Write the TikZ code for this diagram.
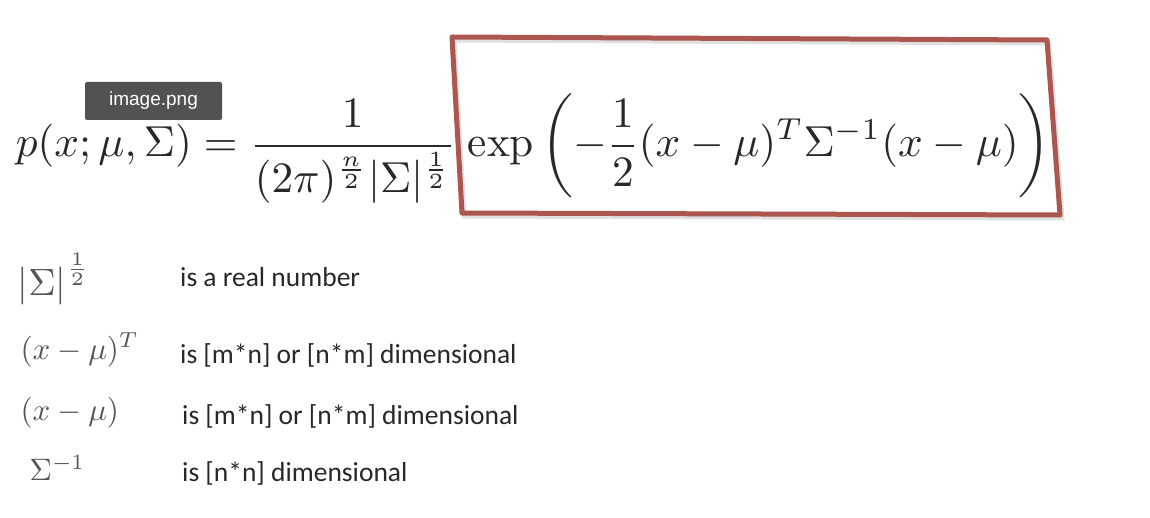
\documentclass[tikz,border=0pt]{standalone}
\usepackage{fontspec}
\newfontfamily\calibri{Carlito}
\newfontfamily\tipfont{Liberation Sans}
\definecolor{boxred}{RGB}{172,86,80}
\definecolor{tipgray}{RGB}{82,82,82}
\definecolor{inkgray}{RGB}{40,40,40}
\definecolor{mathgray}{RGB}{85,85,85}

\begin{document}
\begin{tikzpicture}[x=1pt,y=-1pt]
\useasboundingbox [fill=white] (0,0) rectangle (1150,518);
% the density
\node [anchor=base west, inner sep=0, scale=4.33, transform shape, text=inkgray] (pdf) at (15,157) {$\displaystyle p(x;\mu,\Sigma) = \frac{1}{(2\pi)^{\frac{n}{2}}|\Sigma|^{\frac{1}{2}}}\mkern2mu\exp\left(-\frac{1}{2}(x-\mu)^T\Sigma^{-1}(x-\mu)\right)$};
% box round the exponent
\draw [black!12, line width=5pt] (454,40) -- (1049,43) -- (1062,218) -- (464,216) -- cycle;
\draw [boxred, line width=5pt, line join=round] (452,37) -- (1047,40) -- (1060,215) -- (462,213) -- cycle;
% tooltip
\node [fill=tipgray, rounded corners=2pt, text=white, font=\tipfont\fontsize{19}{22}\selectfont, minimum width=137pt, minimum height=38pt, inner sep=0] (tip) at (153.5,101) {image.png};
% the terms
\node [anchor=west, inner sep=0, scale=3.8, transform shape, text=mathgray] (detterm) at (17,279) {$\left|\Sigma\right|^{\frac{1}{2}}$};
\node [anchor=west, inner sep=0, scale=3.1, transform shape, text=mathgray] (rowterm) at (20,350) {$(x-\mu)^T$};
\node [anchor=west, inner sep=0, scale=3.1, transform shape, text=mathgray] (colterm) at (20,413) {$(x-\mu)$};
\node [anchor=west, inner sep=0, scale=3.1, transform shape, text=mathgray] (invterm) at (29,468) {$\Sigma^{-1}$};
\node [anchor=base west, inner sep=0, text=inkgray, font=\calibri\fontsize{27.5}{31}\selectfont] (dettext) at (180,287) {is a real number};
\node [anchor=base west, inner sep=0, text=inkgray, font=\calibri\fontsize{27.5}{31}\selectfont] (rowtext) at (180,363) {is [m*n] or [n*m] dimensional};
\node [anchor=base west, inner sep=0, text=inkgray, font=\calibri\fontsize{27.5}{31}\selectfont] (coltext) at (182,424) {is [m*n] or [n*m] dimensional};
\node [anchor=base west, inner sep=0, text=inkgray, font=\calibri\fontsize{27.5}{31}\selectfont] (invtext) at (182,481) {is [n*n] dimensional};
\end{tikzpicture}
\end{document}
